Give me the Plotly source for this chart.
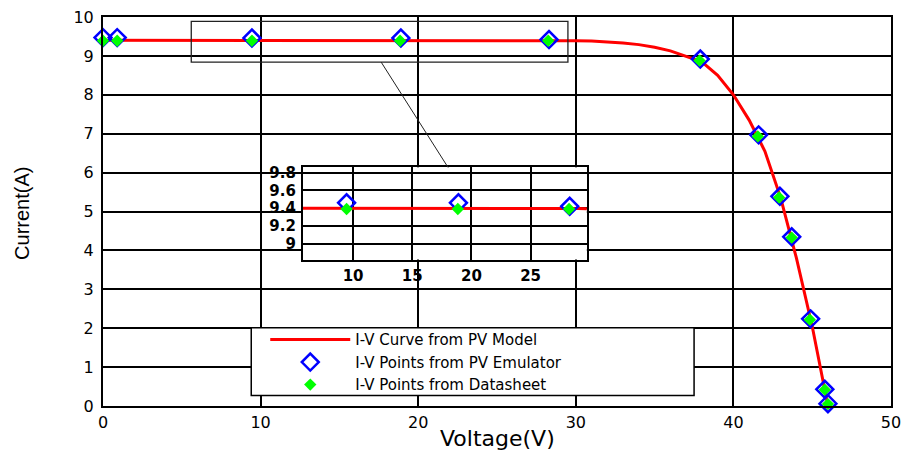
import plotly.graph_objects as go

# ---- data ----
model_v = [0, 10, 20, 27, 29, 30, 31, 32, 33, 34, 35, 36, 37, 38, 39, 40, 41, 42, 43, 44, 45, 45.5, 46]
model_i = [9.40, 9.40, 9.40, 9.40, 9.395, 9.39, 9.38, 9.36, 9.33, 9.29, 9.22, 9.13, 9.00, 8.85,
           8.50, 8.00, 7.35, 6.55, 5.35, 3.80, 2.05, 1.05, 0.0]

emu_v = [0.0, 0.9, 9.45, 18.9, 28.3, 37.9, 41.6, 42.95, 43.7, 44.9, 45.8, 46.0]
emu_i = [9.47, 9.47, 9.46, 9.46, 9.42, 8.92, 6.97, 5.39, 4.35, 2.24, 0.43, 0.06]

ds_v = [0.0, 0.9, 9.45, 18.85, 28.25, 37.85, 41.55, 42.9, 43.7, 44.85, 45.8, 46.0]
ds_i = [9.39, 9.39, 9.39, 9.39, 9.39, 8.88, 6.93, 5.36, 4.33, 2.22, 0.42, 0.05]

x_ticks = [0, 10, 20, 30, 40, 50]
y_ticks = [0, 1, 2, 3, 4, 5, 6, 7, 8, 9, 10]
inset_x_ticks = [10, 15, 20, 25]
inset_y_ticks = [9.0, 9.2, 9.4, 9.6, 9.8]
inset_y_labels = ["9", "9.2", "9.4", "9.6", "9.8"]

names = ["I-V Curve from PV Model", "I-V Points from PV Emulator", "I-V Points from Datasheet"]

zoom_x = [5.6, 29.5]
zoom_y = [8.84, 9.89]
inset_xr = [5.76, 29.75]
inset_yr = [8.82, 9.86]

RED = "#ff0000"
BLUE = "#0000ff"
GREEN = "#00ff00"
FONT = "DejaVu Sans"

fig = go.Figure()

def add_traces(xa, ya, show):
    fig.add_trace(go.Scatter(x=model_v, y=model_i, mode="lines", name=names[0],
                             line=dict(color=RED, width=3), xaxis=xa, yaxis=ya,
                             showlegend=show))
    fig.add_trace(go.Scatter(x=emu_v, y=emu_i, mode="markers", name=names[1],
                             marker=dict(symbol="diamond-open", size=13, color=BLUE,
                                         line=dict(width=2.5, color=BLUE)),
                             xaxis=xa, yaxis=ya, showlegend=show, cliponaxis=False))
    fig.add_trace(go.Scatter(x=ds_v, y=ds_i, mode="markers", name=names[2],
                             marker=dict(symbol="diamond", size=9.5, color=GREEN,
                                         line=dict(width=0)),
                             xaxis=xa, yaxis=ya, showlegend=show, cliponaxis=False))

add_traces("x", "y", True)
add_traces("x2", "y2", False)

axis_common = dict(showgrid=True, gridcolor="black", gridwidth=2, showline=True,
                   linecolor="black", linewidth=2, mirror=True, zeroline=False, ticks="",
                   automargin=False)

fig.update_layout(
    width=904, height=456,
    margin=dict(l=103, r=13, t=17, b=50, autoexpand=False),
    paper_bgcolor="white", plot_bgcolor="white",
    xaxis=dict(range=[0, 50], tickvals=x_ticks, ticktext=[str(v) for v in x_ticks],
               tickfont=dict(family=FONT, size=16, color="black"), ticklabelstandoff=1,
               **axis_common),
    yaxis=dict(range=[0, 10], tickvals=y_ticks, ticktext=[str(v) for v in y_ticks],
               tickfont=dict(family=FONT, size=16, color="black"), ticklabelstandoff=4,
               **axis_common),
    xaxis2=dict(domain=[0.2537, 0.614], anchor="y2", range=inset_xr, tickvals=inset_x_ticks,
                ticktext=[str(v) for v in inset_x_ticks],
                tickfont=dict(family=FONT, size=15, color="black", weight="bold"),
                ticklabelstandoff=1, **axis_common),
    yaxis2=dict(domain=[0.3766, 0.6136], anchor="x2", range=inset_yr, tickvals=inset_y_ticks,
                ticktext=inset_y_labels,
                tickfont=dict(family=FONT, size=15, color="black", weight="bold"),
                ticklabelstandoff=2, **axis_common),
    legend=dict(x=0.2059, y=0.2125, xanchor="left", yanchor="top",
                bgcolor="rgba(0,0,0,0)", borderwidth=0,
                font=dict(family=FONT, size=15, color="black"),
                itemwidth=80, tracegroupgap=0),
    showlegend=True,
)

# zoom rectangle and connector on main axes
fig.add_shape(type="rect", xref="x", yref="y", x0=zoom_x[0], x1=zoom_x[1],
              y0=zoom_y[0], y1=zoom_y[1], line=dict(color="#222222", width=1.3), layer="above")
fig.add_shape(type="line", xref="x", yref="y", x0=17.65, y0=zoom_y[0], x1=21.9, y1=6.13,
              line=dict(color="#222222", width=1), layer="above")

# legend box
fig.add_shape(type="rect", xref="paper", yref="paper",
              x0=(251 - 102.7) / 788.3, x1=(694 - 102.7) / 788.3,
              y0=(405.5 - 395) / 388.2, y1=(405.5 - 327.3) / 388.2,
              line=dict(color="black", width=1.5), fillcolor="white", layer="above")

# axis titles
fig.add_annotation(text="Voltage(V)", xref="paper", yref="paper", x=0.5, y=-0.083,
                   xanchor="center", yanchor="middle", showarrow=False,
                   font=dict(family=FONT, size=22, color="black"))
fig.add_annotation(text="Current(A)", xref="paper", yref="paper", x=-0.103, y=0.496,
                   xanchor="center", yanchor="middle", showarrow=False, textangle=-90,
                   font=dict(family="Liberation Sans", size=20, color="black"))

fig.write_html("out.html",
               config={"displayModeBar": False},
               post_script="document.body.style.margin='0';"
                           "document.documentElement.style.overflow='hidden';")
